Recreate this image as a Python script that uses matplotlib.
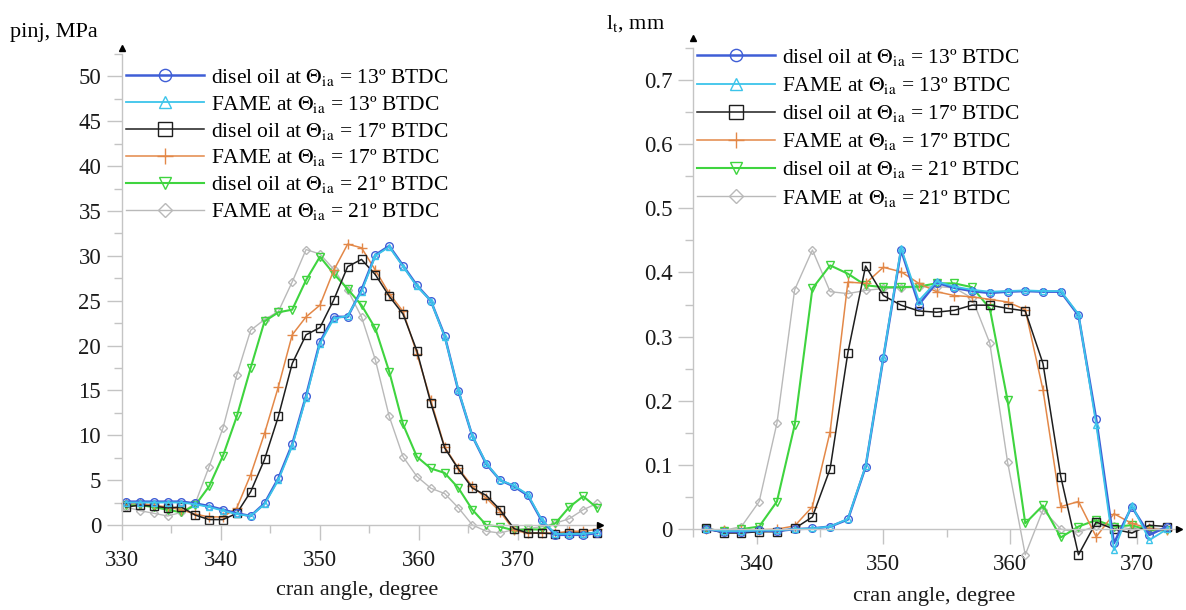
import matplotlib
matplotlib.use("Agg")
import matplotlib.pyplot as plt
from matplotlib.ticker import MultipleLocator

plt.rcParams['font.family'] = 'serif'
plt.rcParams['font.serif'] = ['Liberation Serif', 'DejaVu Serif']
plt.rcParams['mathtext.fontset'] = 'stix'

# crank angle samples (degrees)
crank_left = [330.4, 331.8, 333.2, 334.6, 336.0, 337.4, 338.8, 340.2, 341.6, 343.0,
              344.4, 345.8, 347.2, 348.6, 350.0, 351.4, 352.8, 354.2, 355.6, 357.0,
              358.4, 359.8, 361.2, 362.6, 364.0, 365.4, 366.8, 368.2, 369.6, 371.0,
              372.4, 373.8, 375.2, 376.6, 378.0]
crank_right = [336.0, 337.4, 338.8, 340.2, 341.6, 343.0, 344.4, 345.8, 347.2, 348.6,
               350.0, 351.4, 352.8, 354.2, 355.6, 357.0, 358.4, 359.8, 361.2, 362.6,
               364.0, 365.4, 366.8, 368.2, 369.6, 371.0, 372.4]

# injection pressure, MPa
p_disel13 = [2.6, 2.6, 2.6, 2.6, 2.6, 2.4, 2.1, 1.7, 1.3, 1.0, 2.4, 5.2, 9.0, 14.4, 20.4,
             23.2, 23.2, 26.2, 30.1, 31.1, 28.9, 26.7, 25.0, 21.1, 14.9, 9.9, 6.8, 5.0,
             4.3, 3.3, 0.5, -1.1, -1.1, -1.1, -0.9]
p_fame13 = [2.5, 2.5, 2.5, 2.5, 2.5, 2.3, 2.0, 1.6, 1.2, 1.0, 2.3, 5.0, 8.8, 14.2, 20.2,
            23.0, 23.3, 26.0, 30.0, 31.0, 28.8, 26.6, 25.0, 21.0, 15.0, 9.9, 6.9, 5.0,
            4.4, 3.4, 0.6, -1.0, -1.0, -1.0, -0.8]
p_disel17 = [2.0, 2.2, 2.1, 1.9, 2.0, 1.1, 0.6, 0.6, 1.3, 3.7, 7.3, 12.1, 18.0, 21.2, 22.0,
             25.1, 28.8, 29.6, 27.9, 25.5, 23.5, 19.4, 13.6, 8.6, 6.2, 4.1, 3.3, 1.7,
             -0.4, -0.9, -0.9, -1.0, -0.9, -0.9, -0.9]
p_fame17 = [2.4, 2.4, 2.2, 2.0, 1.7, 1.2, 0.9, 0.9, 1.9, 5.6, 10.2, 15.4, 21.2, 23.2, 24.5,
            28.4, 31.3, 30.9, 28.4, 25.8, 23.8, 19.1, 13.9, 8.7, 6.3, 4.3, 3.0, 1.5,
            -0.6, -0.9, -0.9, -0.9, -0.7, -0.7, -0.5]
p_disel21 = [2.2, 2.2, 2.0, 1.7, 1.4, 2.2, 4.3, 7.7, 12.1, 17.5, 22.7, 23.7, 24.0, 27.3, 29.9,
             28.0, 26.3, 24.5, 21.9, 17.1, 11.2, 7.6, 6.3, 5.8, 4.1, 1.7, 0.0, -0.2,
             -0.6, -0.5, -0.5, 0.2, 2.0, 3.2, 1.9]
p_fame21 = [2.0, 1.6, 1.3, 1.0, 1.4, 2.4, 6.5, 10.8, 16.7, 21.7, 22.9, 23.8, 27.1, 30.7, 30.2,
            28.5, 26.2, 23.2, 18.4, 12.1, 7.6, 5.4, 4.1, 3.5, 1.9, 0.0, -0.7, -0.9,
            -0.5, -0.4, -0.2, 0.2, 0.7, 1.7, 2.4]

# needle lift, mm
l_disel13 = [0.0, -0.004, -0.004, -0.002, -0.003, 0.0, 0.001, 0.004, 0.015, 0.097, 0.267,
             0.435, 0.350, 0.384, 0.376, 0.371, 0.368, 0.370, 0.371, 0.370, 0.370, 0.333,
             0.171, -0.022, 0.035, -0.009, 0.004]
l_fame13 = [0.0, -0.003, -0.003, -0.002, -0.002, 0.0, 0.001, 0.004, 0.016, 0.098, 0.268,
            0.438, 0.356, 0.386, 0.378, 0.373, 0.370, 0.371, 0.372, 0.371, 0.371, 0.335,
            0.163, -0.033, 0.038, -0.017, 0.0]
l_disel17 = [0.001, -0.006, -0.006, -0.004, -0.004, 0.001, 0.019, 0.094, 0.275, 0.410, 0.364,
             0.349, 0.340, 0.338, 0.341, 0.349, 0.349, 0.344, 0.340, 0.258, 0.082, -0.040,
             0.011, 0.0, -0.006, 0.006, 0.004]
l_fame17 = [0.0, -0.002, -0.002, -0.001, 0.0, 0.005, 0.035, 0.152, 0.385, 0.383, 0.408,
            0.401, 0.383, 0.370, 0.364, 0.362, 0.358, 0.354, 0.342, 0.217, 0.035, 0.043,
            -0.012, 0.024, 0.009, 0.001, -0.002]
l_disel21 = [0.0, -0.003, 0.0, 0.004, 0.043, 0.162, 0.375, 0.411, 0.398, 0.380, 0.377,
             0.377, 0.378, 0.383, 0.383, 0.377, 0.344, 0.201, 0.009, 0.037, -0.013, 0.004,
             0.014, 0.004, 0.006, -0.002, -0.002]
l_fame21 = [0.0, -0.002, 0.004, 0.043, 0.165, 0.373, 0.435, 0.370, 0.367, 0.372, 0.375,
            0.376, 0.377, 0.378, 0.376, 0.360, 0.290, 0.105, -0.040, 0.030, 0.0, -0.005,
            0.005, 0.005, 0.0, 0.002, 0.0]

labels = [r'disel oil at $\Theta_{\rm ia}$ = 13º BTDC',
          r'FAME at $\Theta_{\rm ia}$ = 13º BTDC',
          r'disel oil at $\Theta_{\rm ia}$ = 17º BTDC',
          r'FAME at $\Theta_{\rm ia}$ = 17º BTDC',
          r'disel oil at $\Theta_{\rm ia}$ = 21º BTDC',
          r'FAME at $\Theta_{\rm ia}$ = 21º BTDC']
colors = ['#3f5ed6', '#3cc4ea', '#1e1e1e', '#e38848', '#3fd43f', '#b9b9b9']
markers = ['o', '^', 's', '+', 'v', 'D']
widths = [1.8, 1.3, 1.1, 1.1, 1.5, 1.0]
msizes = [5.5, 5.0, 6, 7, 5.5, 4.5]
draw_order = [5, 4, 3, 2, 0, 1]

AXIS_GREY = '#c4c4c4'


def style_axis(ax, x0, xend, ytop, yarrow, xmaj, xmin, ymaj, ymin):
    for s in ['top', 'right']:
        ax.spines[s].set_visible(False)
    ax.spines['bottom'].set_position(('data', 0))
    ax.spines['left'].set_bounds(0, ytop)
    ax.spines['bottom'].set_bounds(x0, xend)
    for s in ['left', 'bottom']:
        ax.spines[s].set_color(AXIS_GREY)
        ax.spines[s].set_linewidth(1.0)
    ax.xaxis.set_major_locator(MultipleLocator(xmaj))
    ax.xaxis.set_minor_locator(MultipleLocator(xmin))
    ax.yaxis.set_major_locator(MultipleLocator(ymaj))
    ax.yaxis.set_minor_locator(MultipleLocator(ymin))
    ax.tick_params(which='major', length=11, width=1.0, color=AXIS_GREY,
                   labelsize=16.5, labelcolor='#1a1a1a')
    ax.tick_params(which='minor', length=6, width=1.0, color=AXIS_GREY)
    ax.tick_params(axis='x', which='major', pad=7)
    ax.tick_params(axis='y', which='major', pad=4)
    # arrow heads at the axis ends
    ax.plot([x0], [yarrow], marker='^', color='k', ms=5, clip_on=False, zorder=5)
    ax.plot([xend], [0], marker='>', color='k', ms=5, clip_on=False, zorder=5)


def draw_series(ax, crank, series):
    for k in draw_order:
        ax.plot(crank, series[k], color=colors[k], marker=markers[k], mfc='none',
                ms=msizes[k], mew=1.0, lw=widths[k], label=labels[k], clip_on=False)


def add_legend(ax, x, y, spacing):
    h, l = ax.get_legend_handles_labels()
    order = [l.index(lab) for lab in labels]
    ax.legend([h[i] for i in order], [l[i] for i in order], loc='upper left',
              bbox_to_anchor=(x / 1186, 1 - y / 610), bbox_transform=fig.transFigure,
              frameon=False, fontsize=15.5, handlelength=3.6, handletextpad=0.35,
              labelspacing=spacing, borderpad=0, borderaxespad=0, markerscale=1.6)


fig = plt.figure(figsize=(11.86, 6.10), dpi=100)

# ---- left: injection pressure ----
ax1 = fig.add_axes([122 / 1186, 1 - 544.7 / 610, 480 / 1186, 499.7 / 610])
draw_series(ax1, crank_left, [p_disel13, p_fame13, p_disel17, p_fame17, p_disel21, p_fame21])
ax1.set_xlim(330, 378.5)
ax1.set_ylim(-2.2, 53.5)
style_axis(ax1, 330, 378.3, 52.5, 53.2, 10, 5, 5, 2.5)
add_legend(ax1, 126, 67, 0.27)

fig.text(10 / 1186, 1 - 33 / 610, 'pinj, MPa', fontsize=16, va='center', ha='left')
fig.text(357 / 1186, 1 - 590 / 610, 'cran angle, degree', fontsize=16,
         va='center', ha='center', color='#1a1a1a')

# ---- right: needle lift ----
ax2 = fig.add_axes([693.3 / 1186, 1 - 558 / 610, 491.6 / 1186, 523 / 610])
draw_series(ax2, crank_right, [l_disel13, l_fame13, l_disel17, l_fame17, l_disel21, l_fame21])
ax2.set_xlim(335, 373.8)
ax2.set_ylim(-0.045, 0.77)
style_axis(ax2, 335, 373.3, 0.75, 0.765, 10, 5, 0.1, 0.05)
ax2.yaxis.set_major_formatter(plt.FuncFormatter(lambda v, _: '0' if abs(v) < 1e-9 else f'{v:.1f}'))
add_legend(ax2, 697, 47, 0.33)

fig.text(606 / 1186, 1 - 24 / 610, r'l$_{\rm t}$, mm', fontsize=16, va='center', ha='left')
fig.text(934 / 1186, 1 - 597 / 610, 'cran angle, degree', fontsize=16,
         va='center', ha='center', color='#1a1a1a')

fig.savefig('out.png', dpi=100)
